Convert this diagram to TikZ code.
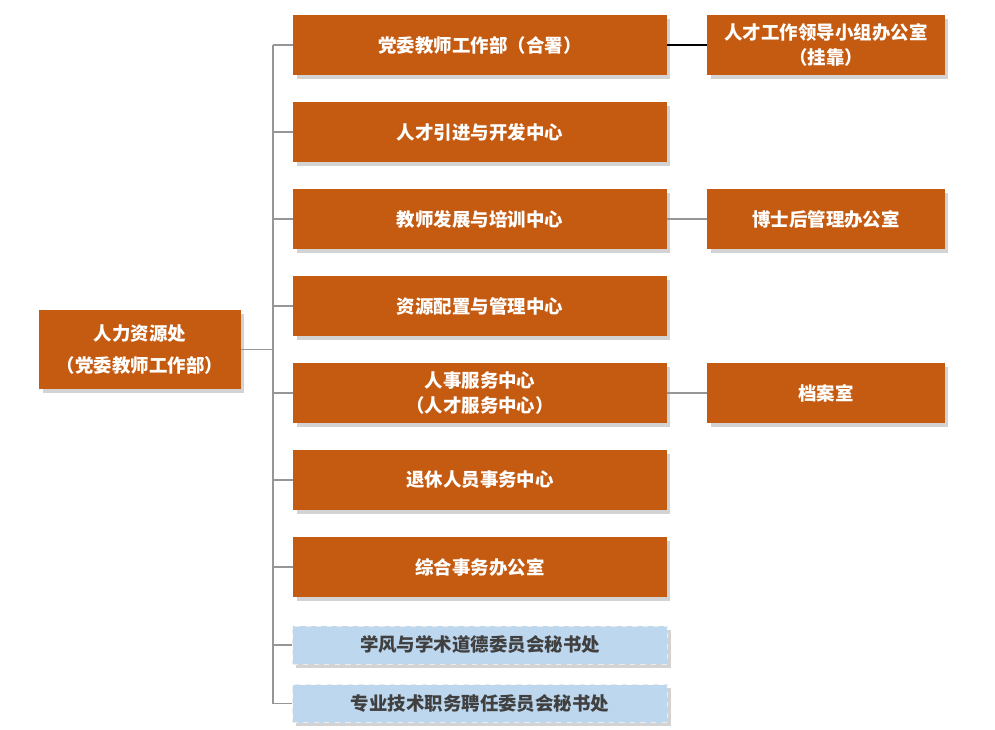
\documentclass[tikz,border=0pt]{standalone}
\usepackage{fontspec}
\setmainfont{Noto Sans CJK SC}
\usetikzlibrary{shadows}

\definecolor{deptorange}{RGB}{197,90,17}
\definecolor{officeblue}{RGB}{189,215,238}
\definecolor{officetext}{RGB}{64,64,64}
\definecolor{linkgray}{RGB}{150,150,150}

\tikzset{
  box/.style={inner sep=0pt, align=center, drop shadow={shadow xshift=2pt, shadow yshift=-2pt, opacity=0.35}},
  dept/.style={box, fill=deptorange, text=white, font=\fontsize{10.5}{14}\selectfont\bfseries, minimum width=7.48cm, minimum height=1.2cm},
  sidebox/.style={dept, minimum width=4.76cm},
  rootbox/.style={dept, minimum width=4.04cm, minimum height=1.58cm, font=\fontsize{10.5}{18.7}\selectfont\bfseries},
  office/.style={box, fill=officeblue, draw=white!85!gray, dashed, text=officetext, font=\fontsize{10.5}{14}\selectfont\bfseries, minimum width=7.5cm, minimum height=0.76cm},
  link/.style={draw=linkgray, line width=0.8pt}
}

\begin{document}
\begin{tikzpicture}[x=0.02cm, y=0.02cm]
    \useasboundingbox (0,0) rectangle (995,-730);

    % Draw the root
    \node[rootbox] (root) at (140,-349.5) {人力资源处\\（党委教师工作部）};

    % Draw the departments
    \node[dept] (d1) at (480,-45) {党委教师工作部（合署）};
    \node[dept] (d2) at (480,-132) {人才引进与开发中心};
    \node[dept] (d3) at (480,-219) {教师发展与培训中心};
    \node[dept] (d4) at (480,-306) {资源配置与管理中心};
    \node[dept] (d5) at (480,-393) {人事服务中心\\（人才服务中心）};
    \node[dept] (d6) at (480,-480) {退休人员事务中心};
    \node[dept] (d7) at (480,-567) {综合事务办公室};
    \node[office] (b1) at (480,-645) {学风与学术道德委员会秘书处};
    \node[office] (b2) at (480,-703.5) {专业技术职务聘任委员会秘书处};

    % Draw the side offices
    \node[sidebox] (s1) at (826,-45) {人才工作领导小组办公室\\（挂靠）};
    \node[sidebox] (s3) at (826,-219) {博士后管理办公室};
    \node[sidebox] (s5) at (826,-393) {档案室};

    % Draw the tree
    \coordinate (top) at (273,-45);
    \coordinate (bottom) at (273,-703.5);
    \draw[link] (root.east) -- (top |- root.east);
    \draw[link] (top) -- (bottom);
    \foreach \n in {d1,d2,d3,d4,d5,d6,d7,b1,b2}
      \draw[link] (top |- \n.west) -- (\n.west);

    % Draw the side links
    \draw[line width=0.8pt] (d1.east) -- (s1.west);
    \draw[link] (d3.east) -- (s3.west);
    \draw[link] (d5.east) -- (s5.west);
\end{tikzpicture}
\end{document}
